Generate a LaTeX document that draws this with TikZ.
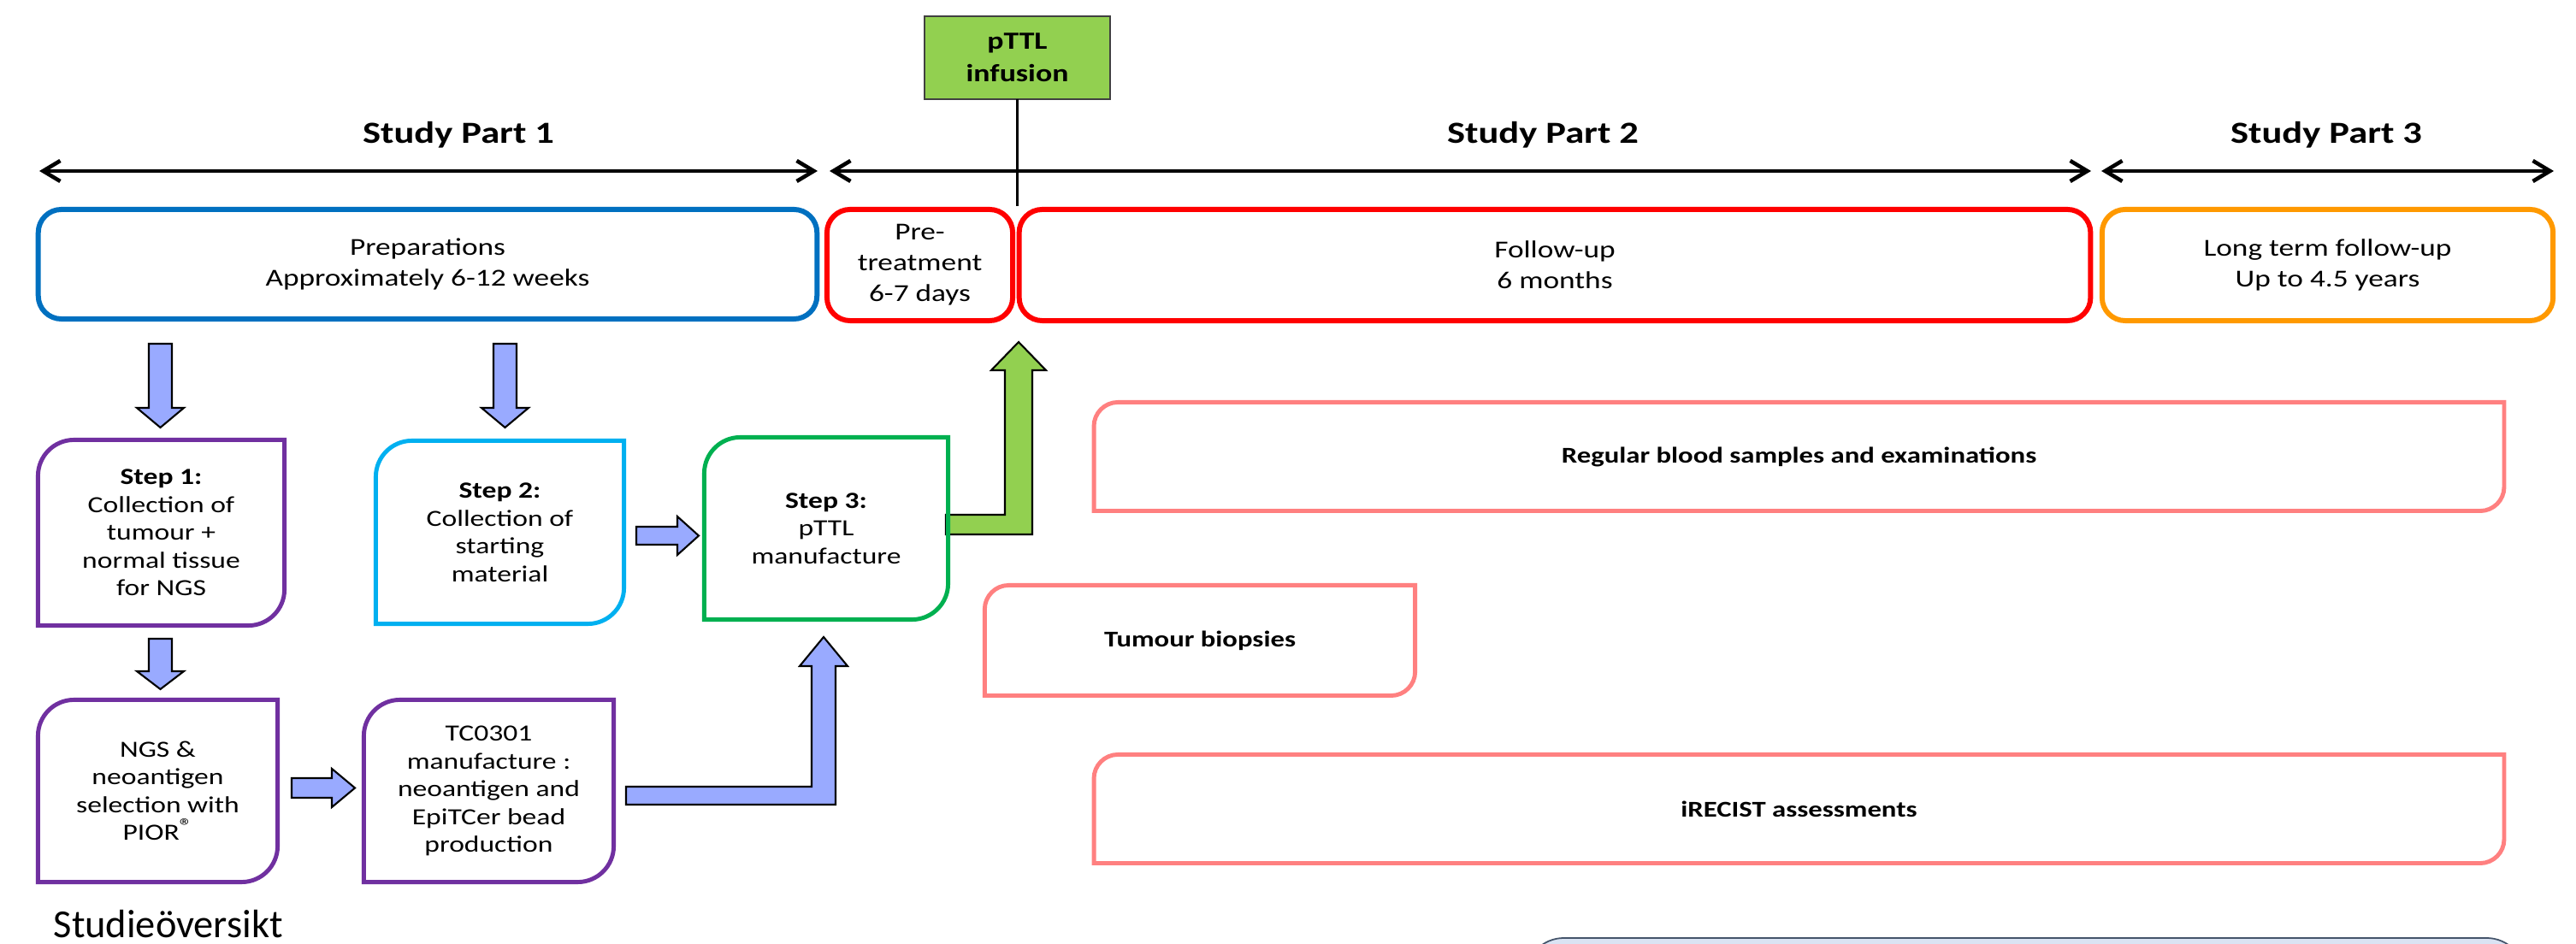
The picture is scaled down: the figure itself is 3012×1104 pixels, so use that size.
\documentclass[tikz,border=0pt]{standalone}
\usepackage{fontspec}
\setmainfont{Carlito}[FakeStretch=1.24]
\newfontfamily\studfont{Carlito}
\usetikzlibrary{arrows.meta,calc}

\definecolor{prepblue}{RGB}{0,112,192}
\definecolor{phasered}{RGB}{255,0,0}
\definecolor{ltorange}{RGB}{255,153,0}
\definecolor{steppurple}{RGB}{112,48,160}
\definecolor{stepcyan}{RGB}{0,176,240}
\definecolor{stepgreen}{RGB}{0,176,80}
\definecolor{assesssalmon}{RGB}{255,128,128}
\definecolor{arrowblue}{RGB}{153,170,255}
\definecolor{infgreen}{RGB}{146,208,80}
\definecolor{legendfill}{RGB}{218,227,243}
\definecolor{legendline}{RGB}{68,84,106}

% frame with rounded top-left and bottom-right corners, square elsewhere
% #1 node name, #2 corner radius, #3 draw options
\newcommand\diagframe[3]{%
  \draw[#3] (#1.south west) -- ($(#1.north west)+(0,#2)$)
    .. controls ($(#1.north west)+(0,0.45*#2)$) and ($(#1.north west)+(0.45*#2,0)$) .. ($(#1.north west)+(#2,0)$)
    -- (#1.north east) -- ($(#1.south east)+(0,-#2)$)
    .. controls ($(#1.south east)+(0,-0.45*#2)$) and ($(#1.south east)+(-0.45*#2,0)$) .. ($(#1.south east)+(-#2,0)$)
    -- cycle;}

% small raised registered sign
\newcommand\regmark{{\fontsize{7}{8}\selectfont\raisebox{0.75ex}{®}}}

\tikzset{
  phase/.style={draw=#1, line width=1.7pt, rounded corners=0.27cm, inner sep=0pt,
    outer sep=0pt, align=center, font=\fontsize{8.1}{10.25}\selectfont},
  stepbox/.style={inner sep=0pt, outer sep=0pt, align=center,
    font=\fontsize{7.7}{9.25}\selectfont},
  assess/.style={inner sep=0pt, outer sep=0pt, font=\bfseries\fontsize{7.5}{9}\selectfont},
  parttitle/.style={inner sep=0pt, font=\bfseries\fontsize{10.2}{12}\selectfont},
  timeline/.style={line width=1.3pt,
    {Straight Barb[length=0.2cm,width=0.24cm]}-{Straight Barb[length=0.2cm,width=0.24cm]}},
  blockarrow/.style={fill=arrowblue, draw=black, line width=0.6pt, line join=miter},
  greenarrow/.style={fill=infgreen, draw=black, line width=0.6pt, line join=miter},
  stepline/.style={draw=#1, line width=1.4pt},
  assessline/.style={draw=assesssalmon, line width=1.4pt}
}

\begin{document}
\begin{tikzpicture}[x=0.01cm, y=-0.01cm]
\path[use as bounding box, fill=white] (0,0) rectangle (3012,1104);

% timeline of the three study parts
\coordinate (p1a) at (46,200);   \coordinate (p1b) at (956,200);
\coordinate (p2a) at (970,200);  \coordinate (p2b) at (2445,200);
\coordinate (p3a) at (2457,200); \coordinate (p3b) at (2986,200);
\draw[timeline] (p1a) -- (p1b);
\draw[timeline] (p2a) -- (p2b);
\draw[timeline] (p3a) -- (p3b);
\node[parttitle] (t1) at (536,158) {Study Part 1};
\node[parttitle] (t2) at (1804,158) {Study Part 2};
\node[parttitle] (t3) at (2720,158) {Study Part 3};

% phases
\node[phase=prepblue, minimum width=9.1cm, minimum height=1.28cm] (prep) at (500,309)
  {Preparations\\Approximately 6-12 weeks};
\node[phase=phasered, minimum width=2.17cm, minimum height=1.3cm] (pre) at (1075.5,310)
  {Pre-\\treatment\\6-7 days};
\node[phase=phasered, minimum width=12.52cm, minimum height=1.3cm] (follow) at (1818,310)
  {Follow-up\\6 months};
\node[phase=ltorange, minimum width=5.27cm, minimum height=1.3cm] (longterm) at (2721.5,310)
  {Long term follow-up\\Up to 4.5 years};

% infusion marker
\node[draw=black!75, fill=infgreen, line width=0.6pt, minimum width=2.17cm, minimum height=0.97cm,
  inner sep=0pt, outer sep=0pt, align=center, font=\bfseries\fontsize{8.2}{10.8}\selectfont]
  (inf) at (1189.5,67.5) {pTTL\\infusion};
\coordinate (infend) at (1189.5,241);
\draw[line width=1.1pt] (inf.south) -- (infend);

% block arrows
\draw[blockarrow] (174,402) -- (201,402) -- (201,477) -- (215,477) -- (187.5,500) -- (160,477) -- (174,477) -- cycle;
\draw[blockarrow] (577,402) -- (604,402) -- (604,477) -- (618,477) -- (590.5,500) -- (563,477) -- (577,477) -- cycle;
\draw[blockarrow] (174,747) -- (201,747) -- (201,785) -- (215,785) -- (187.5,806) -- (160,785) -- (174,785) -- cycle;
\draw[blockarrow] (744,616) -- (792,616) -- (792,604) -- (817,626.5) -- (792,649) -- (792,637) -- (744,637) -- cycle;
\draw[blockarrow] (341,910) -- (388,910) -- (388,899) -- (415,921.5) -- (388,944) -- (388,933) -- (341,933) -- cycle;
\draw[blockarrow] (732,920) -- (949,920) -- (949,779) -- (935,779) -- (963,745) -- (991,779) -- (977,779) -- (977,941) -- (732,941) -- cycle;
\draw[greenarrow] (1106,602) -- (1175,602) -- (1175,433) -- (1159,433) -- (1191,400) -- (1223,433) -- (1207,433) -- (1207,625) -- (1106,625) -- cycle;

% manufacturing steps
\node[stepbox, minimum width=2.88cm, minimum height=2.17cm] (s1) at (188.5,623)
  {\textbf{Step 1:}\\Collection of\\tumour +\\normal tissue\\for NGS};
\diagframe{s1}{42}{stepline=steppurple}
\node[stepbox, minimum width=2.9cm, minimum height=2.14cm] (s2) at (584.5,622.5)
  {\textbf{Step 2:}\\Collection of\\starting\\material};
\diagframe{s2}{42}{stepline=stepcyan}
\node[stepbox, minimum width=2.85cm, minimum height=2.13cm] (s3) at (966,618)
  {\textbf{Step 3:}\\pTTL\\manufacture};
\diagframe{s3}{42}{stepline=stepgreen}
\node[stepbox, minimum width=2.8cm, minimum height=2.13cm] (ngs) at (184.5,925)
  {NGS \&\\neoantigen\\selection with\\PIOR\regmark};
\diagframe{ngs}{42}{stepline=steppurple}
\node[stepbox, minimum width=2.92cm, minimum height=2.13cm] (tc) at (571.5,925)
  {TC0301\\manufacture :\\neoantigen and\\EpiTCer bead\\production};
\diagframe{tc}{42}{stepline=steppurple}

% follow-up assessments
\node[assess, minimum width=16.48cm, minimum height=1.27cm] (blood) at (2103.5,534)
  {Regular blood samples and examinations};
\diagframe{blood}{28}{assessline}
\node[assess, minimum width=5.03cm, minimum height=1.29cm] (biopsy) at (1403,749)
  {Tumour biopsies};
\diagframe{biopsy}{28}{assessline}
\node[assess, minimum width=16.48cm, minimum height=1.27cm] (irecist) at (2103.5,946)
  {iRECIST assessments};
\diagframe{irecist}{28}{assessline}

% panel at the lower edge
\begin{scope}
  \clip (0,0) rectangle (3012,1104);
  \node[draw=legendline, fill=legendfill, line width=0.5pt, rounded corners=0.45cm,
    minimum width=11.68cm, minimum height=1cm, inner sep=0pt] (legend) at (2368,1147) {};
\end{scope}

\node[font=\studfont\fontsize{13.2}{15}\selectfont, anchor=base west, inner sep=0pt]
  (caption) at (62,1096) {Studieöversikt};
\end{tikzpicture}
\end{document}
